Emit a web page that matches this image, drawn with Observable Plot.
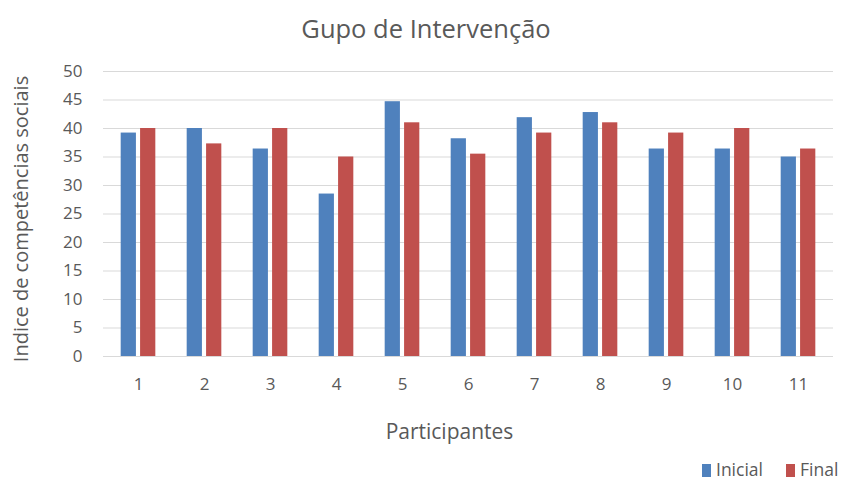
<!DOCTYPE html>
<html><head><meta charset="utf-8">
<script src="https://cdn.jsdelivr.net/npm/d3@7"></script>
<script src="https://cdn.jsdelivr.net/npm/@observablehq/plot@0.6"></script>
<style>
body{margin:0;background:#fff;font-family:"Open Sans",sans-serif;color:#595959;width:842px;height:482px;overflow:hidden;}
#title{height:56px;box-sizing:border-box;padding-top:8px;padding-left:10px;text-align:center;font-size:25.5px;line-height:40px;}
#legend{height:26px;position:relative;font-size:17.5px;}
.item{position:absolute;top:0;height:26px;}
.sw{position:absolute;top:8px;width:9px;height:13px;}
.tx{position:absolute;top:1px;left:14px;line-height:normal;white-space:nowrap;}
</style></head><body>
<div id="title">Gupo de Intervenção</div>
<div id="chart"></div>
<div id="legend"></div>
<script>
const participants = ["1","2","3","4","5","6","7","8","9","10","11"];
const series = ["Inicial","Final"];
const colors = ["#4F81BD","#C0504D"];
const inicial = [39.2, 40, 36.4, 28.5, 44.7, 38.2, 41.9, 42.8, 36.4, 36.4, 35];
const final = [40, 37.3, 40, 35, 41, 35.5, 39.2, 41, 39.2, 40, 36.4];
const yTicks = [0,5,10,15,20,25,30,35,40,45,50];
const xLabel = "Participantes";
const yLabel = "Indice de competências sociais";

const W = 842, ML = 103, MR = 9;
const step = (W - ML - MR) / participants.length;
const barW = 15.6, gap = 3.8;
const half = step / 2;

const dIni = participants.map((p, i) => ({p, s: series[0], v: inicial[i]}));
const dFin = participants.map((p, i) => ({p, s: series[1], v: final[i]}));

const plot = Plot.plot({
  width: W,
  height: 400,
  marginTop: 15,
  marginBottom: 100,
  marginLeft: ML,
  marginRight: MR,
  style: {fontFamily: "Open Sans", fontSize: "17px", color: "#595959", background: "#fff"},
  x: {domain: participants, padding: 0},
  y: {domain: [0, 50]},
  color: {domain: series, range: colors},
  marks: [
    Plot.gridY(yTicks, {stroke: "#d9d9d9", strokeOpacity: 1, strokeWidth: 1}),
    Plot.barY(dIni, {x: "p", y: "v", fill: "s", insetLeft: half - gap / 2 - barW, insetRight: half + gap / 2}),
    Plot.barY(dFin, {x: "p", y: "v", fill: "s", insetLeft: half + gap / 2, insetRight: half - gap / 2 - barW}),
    Plot.axisY(yTicks, {tickSize: 0, tickPadding: 21, fontSize: 17, label: null}),
    Plot.axisX({tickSize: 0, tickPadding: 21, fontSize: 17, label: null}),
    Plot.text([xLabel], {text: d => d, frameAnchor: "bottom", dx: -19, dy: 76, lineAnchor: "middle", fontSize: 21, fill: "#595959"}),
    Plot.text([yLabel], {text: d => d, frameAnchor: "left", textAnchor: "middle", rotate: -90, dx: -82, dy: 5, lineAnchor: "middle", fontSize: 20, fill: "#595959"})
  ]
});
plot.querySelectorAll("text").forEach(t => t.setAttribute("fill", "#595959"));
document.getElementById("chart").appendChild(plot);

const leg = document.getElementById("legend");
const lefts = [702, 786];
series.forEach((s, i) => {
  const it = document.createElement("div");
  it.className = "item";
  it.style.left = lefts[i] + "px";
  const sw = document.createElement("div");
  sw.className = "sw";
  sw.style.background = colors[i];
  const tx = document.createElement("div");
  tx.className = "tx";
  tx.textContent = s;
  it.appendChild(sw); it.appendChild(tx);
  leg.appendChild(it);
});
</script>
</body></html>
